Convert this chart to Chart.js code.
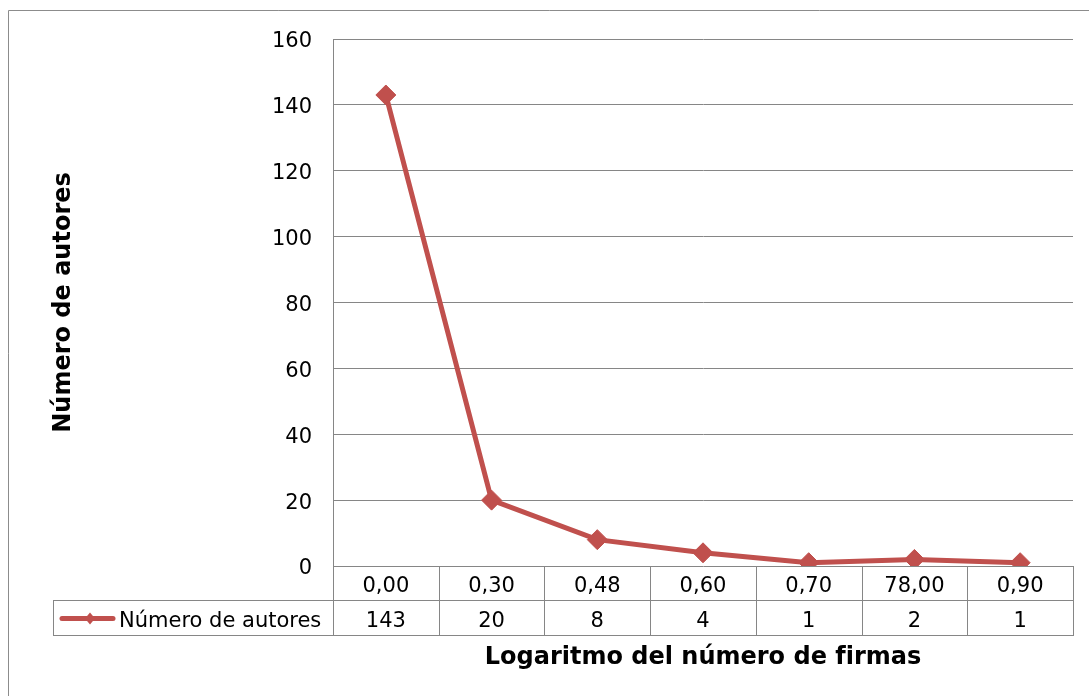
<!DOCTYPE html>
<html lang="es">
<head>
<meta charset="utf-8">
<title>Número de autores</title>
<script src="https://cdn.jsdelivr.net/npm/chart.js@4.4.1/dist/chart.umd.min.js"></script>
<style>
  html, body { margin: 0; padding: 0; background: #ffffff; }
  #caja { position: relative; width: 1089px; height: 696px; }
</style>
</head>
<body>
<div id="caja">
  <canvas id="graficoAutores" width="1089" height="696"></canvas>
</div>
<script>
// datos
const categorias = ["0,00", "0,30", "0,48", "0,60", "0,70", "78,00", "0,90"];
const autores = [143, 20, 8, 4, 1, 2, 1];
const nombreSerie = "Número de autores";
const tituloX = "Logaritmo del número de firmas";
const tituloY = "Número de autores";
const ejeYMin = 0;
const ejeYMax = 160;
const ejeYPaso = 20;

const colorSerie = "#C0504D";
const colorRejilla = "#868686";
const fuente = "'DejaVu Sans', Verdana, sans-serif";

// tabla de datos debajo del eje (estilo Excel)
const tablaDatos = {
  id: "tablaDatos",
  afterDraw(chart) {
    const ctx = chart.ctx;
    const x = chart.scales.x;
    const area = chart.chartArea;
    const n = categorias.length;
    const ancho = (area.right - area.left) / n;
    const fila1 = area.bottom;
    const fila2 = fila1 + 34;
    const fila3 = fila2 + 35;
    const inicioLeyenda = 53;

    ctx.save();
    ctx.strokeStyle = colorRejilla;
    ctx.lineWidth = 1;

    // lineas horizontales
    ctx.beginPath();
    ctx.moveTo(inicioLeyenda, fila2 + 0.5);
    ctx.lineTo(area.right, fila2 + 0.5);
    ctx.moveTo(inicioLeyenda, fila3 + 0.5);
    ctx.lineTo(area.right, fila3 + 0.5);
    ctx.stroke();

    // lineas verticales
    ctx.beginPath();
    for (let i = 0; i <= n; i++) {
      const px = Math.round(area.left + i * ancho) + 0.5;
      ctx.moveTo(px, fila1);
      ctx.lineTo(px, fila3 + 1);
    }
    ctx.moveTo(inicioLeyenda + 0.5, fila2);
    ctx.lineTo(inicioLeyenda + 0.5, fila3 + 1);
    ctx.stroke();

    // textos
    ctx.fillStyle = "#000000";
    ctx.font = "21px " + fuente;
    ctx.textAlign = "center";
    ctx.textBaseline = "middle";
    categorias.forEach((cat, i) => {
      const cx = x.getPixelForValue(i);
      ctx.fillText(cat, cx, (fila1 + fila2) / 2 + 4);
      ctx.fillText(String(autores[i]), cx, (fila2 + fila3) / 2 + 4);
    });

    // clave de leyenda
    const ly = (fila2 + fila3) / 2 + 1;
    ctx.strokeStyle = colorSerie;
    ctx.lineWidth = 5;
    ctx.lineCap = "round";
    ctx.beginPath();
    ctx.moveTo(62, ly);
    ctx.lineTo(113, ly);
    ctx.stroke();
    ctx.fillStyle = colorSerie;
    ctx.beginPath();
    ctx.moveTo(90, ly - 6);
    ctx.lineTo(95, ly);
    ctx.lineTo(90, ly + 6);
    ctx.lineTo(85, ly);
    ctx.closePath();
    ctx.fill();

    ctx.fillStyle = "#000000";
    ctx.textAlign = "left";
    ctx.fillText(nombreSerie, 119, ly + 3);

    // borde exterior del grafico
    ctx.strokeStyle = "#8c8c8c";
    ctx.lineWidth = 1;
    ctx.beginPath();
    ctx.moveTo(8.5, chart.height + 5);
    ctx.lineTo(8.5, 10.5);
    ctx.lineTo(chart.width + 5, 10.5);
    ctx.stroke();
    ctx.restore();
  }
};

const ctx = document.getElementById("graficoAutores").getContext("2d");

new Chart(ctx, {
  type: "line",
  data: {
    labels: categorias,
    datasets: [{
      label: nombreSerie,
      data: autores,
      borderColor: colorSerie,
      backgroundColor: colorSerie,
      borderWidth: 5,
      pointStyle: "rectRot",
      pointRadius: 10,
      pointHoverRadius: 10,
      pointBorderWidth: 1,
      tension: 0
    }]
  },
  options: {
    responsive: false,
    animation: false,
    layout: {
      padding: { top: 39, right: 16, bottom: 0, left: 0 }
    },
    plugins: {
      legend: { display: false },
      tooltip: { enabled: false }
    },
    scales: {
      x: {
        offset: true,
        grid: { display: false },
        border: { display: false },
        ticks: { display: false },
        title: {
          display: true,
          text: tituloX,
          color: "#000000",
          font: { family: fuente, size: 24, weight: "bold" },
          padding: { top: 0, bottom: 24 }
        },
        afterFit(scale) {
          scale.height = 130;
        }
      },
      y: {
        min: ejeYMin,
        max: ejeYMax,
        ticks: {
          stepSize: ejeYPaso,
          color: "#000000",
          padding: 21,
          labelOffset: 3,
          font: { family: fuente, size: 21 }
        },
        grid: {
          color: colorRejilla,
          drawTicks: false
        },
        border: { display: true, color: colorRejilla },
        title: {
          display: true,
          text: tituloY,
          color: "#000000",
          font: { family: fuente, size: 24, weight: "bold" },
          padding: { top: 49, bottom: 0 }
        },
        afterFit(scale) {
          scale.width = 333;
        }
      }
    }
  },
  plugins: [tablaDatos]
});
</script>
</body>
</html>
